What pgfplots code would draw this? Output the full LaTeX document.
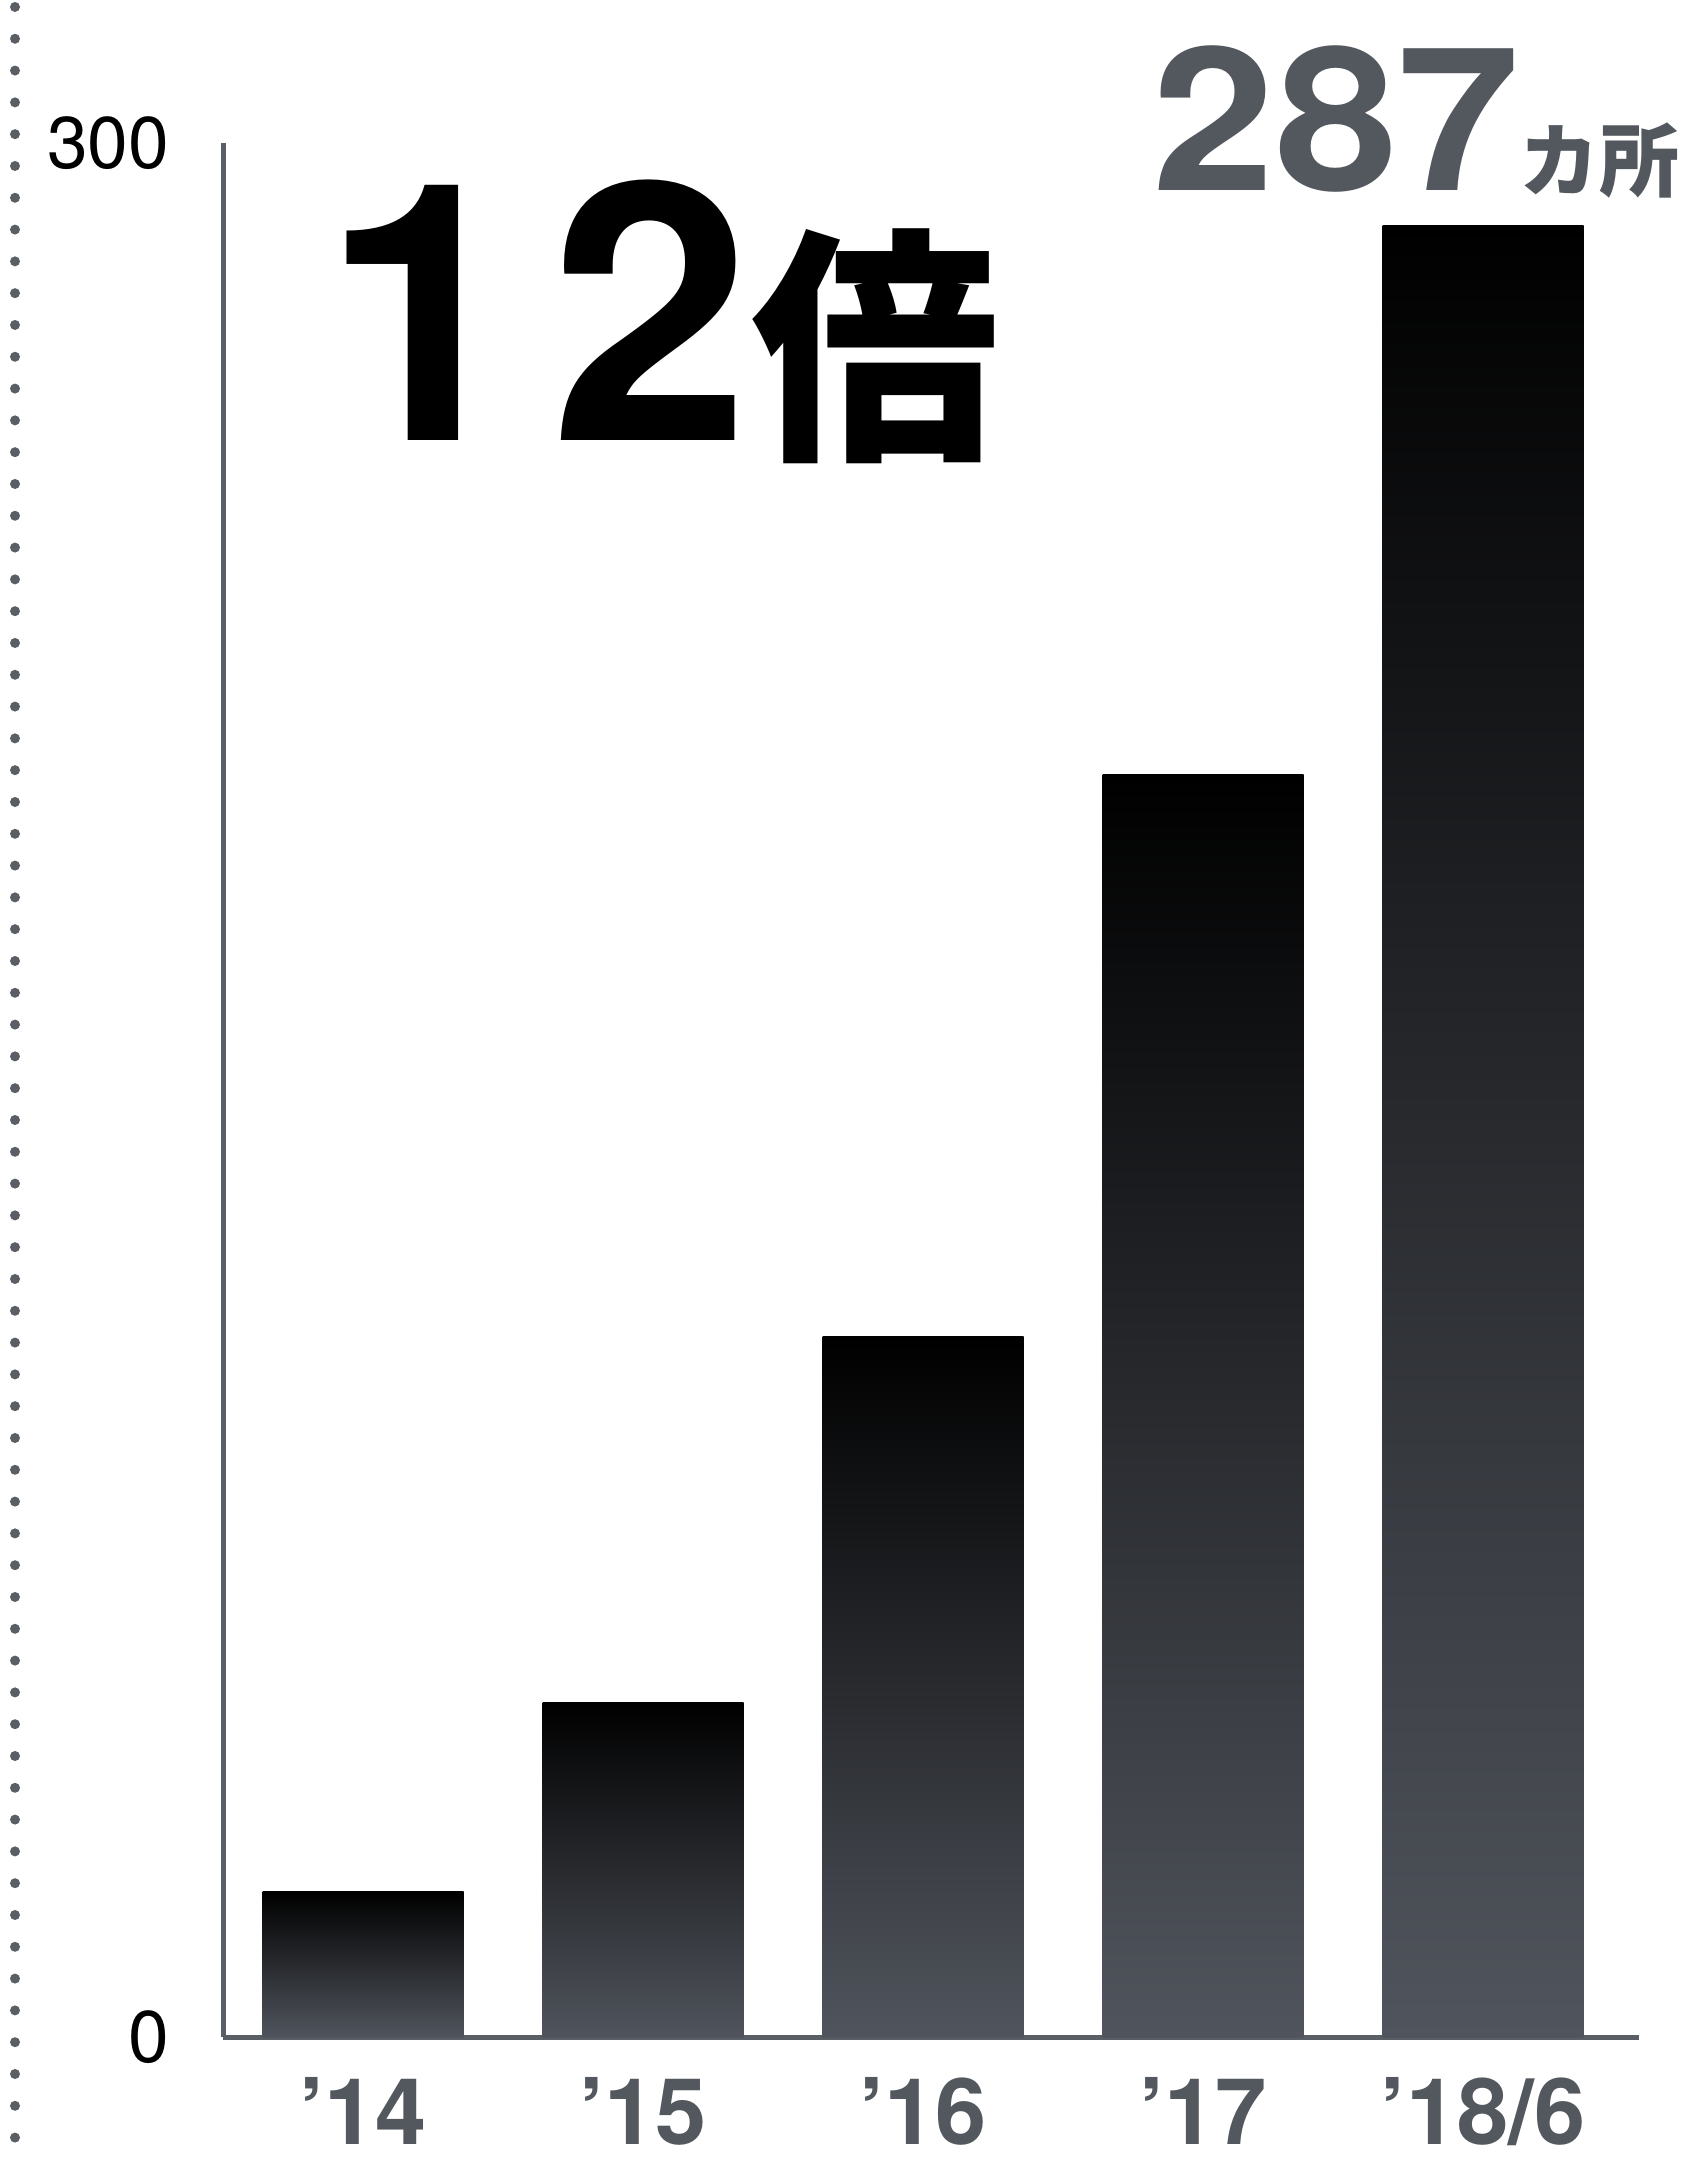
\documentclass[border=0pt]{standalone}
\usepackage{pgfplots}
\pgfplotsset{compat=1.18}
\usepackage{graphicx}
\usepackage{fontspec}
\setmainfont{TeX Gyre Heros}
\newfontfamily\jpfont{Noto Sans CJK JP}
\definecolor{txtgray}{HTML}{53575E}
\definecolor{barbot}{HTML}{50545C}
\definecolor{axgray}{HTML}{5A5E65}
\definecolor{dotgray}{HTML}{5A5E65}
\begin{document}
\begin{tikzpicture}
\useasboundingbox (0pt,0pt) rectangle (422.75pt,540.25pt);
\draw[dotgray, line width=2.5pt, line cap=round, dash pattern=on 0pt off 7.95pt] (3.75pt,538.5pt) -- (3.75pt,0pt);
\begin{axis}[
  at={(55.75pt,31pt)}, anchor=south west,
  scale only axis, width=354pt, height=473.5pt,
  xmin=-0.5, xmax=4.557, ymin=0, ymax=300,
  axis x line=bottom, axis y line=left,
  axis line style={-, draw=axgray, line width=1.25pt},
  major tick length=0pt, tick style={draw=none},
  xtick={0,1,2,3,4},
  xticklabels={’14,’15,’16,’17,’18/6},
  xticklabel style={font=\bfseries\fontsize{23}{25}\selectfont, text=txtgray, inner sep=0pt, yshift=-10pt},
  ytick={0,300},
  yticklabel style={font=\fontsize{18.3}{20}\selectfont, text=black, inner sep=0pt, anchor=east, xshift=-13.25pt},
  /pgf/number format/assume math mode=true,
  no markers,
  every axis plot/.append style={ybar, bar width=50.25pt, bar shift=0pt, draw=none, top color=black, bottom color=barbot},
  clip=false,
]
\addplot coordinates {(0,23)};
\addplot coordinates {(1,53)};
\addplot coordinates {(2,111)};
\addplot coordinates {(3,200)};
\addplot coordinates {(4,287)};
\end{axis}
\node[anchor=base west, inner sep=0pt] at (80.5pt,430pt)
  {\bfseries\fontsize{90}{95}\selectfont 1\hspace{7pt}2{\jpfont\bfseries\fontsize{62}{64}\selectfont 倍}};
\node[anchor=base west, inner sep=0pt, text=txtgray] at (288pt,492.5pt)
  {\scalebox{1.1}[1]{\bfseries\fontsize{50}{52}\selectfont 287}{\jpfont\bfseries\fontsize{20}{22}\selectfont カ所}};
\end{tikzpicture}
\end{document}
